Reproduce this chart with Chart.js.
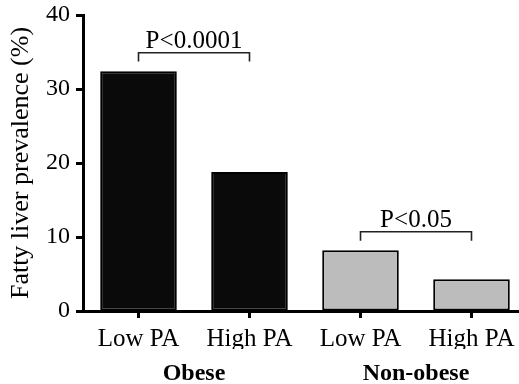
<!DOCTYPE html>
<html>
<head>
<meta charset="utf-8">
<script src="https://cdn.jsdelivr.net/npm/chart.js@4"></script>
<style>
  html, body { margin: 0; padding: 0; background: #fff; overflow: hidden; }
  #wrap { width: 527px; height: 384px; }
</style>
</head>
<body>
<div id="wrap"><canvas id="chart"></canvas></div>
<script>
var categories = ['Low PA', 'High PA', 'Low PA', 'High PA'];
var groups = ['Obese', 'Non-obese'];
var prevalence = [32.4, 18.8, 8.2, 4.3];
var barColors = ['#0a0a0a', '#0a0a0a', '#bcbcbc', '#bcbcbc'];
var yTicks = [0, 10, 20, 30, 40];
// p-value brackets: from/to category index, height in axis units
var bracketFrom = [0, 2];
var bracketTo = [1, 3];
var bracketLevel = [34.9, 10.7];
var bracketDrop = [1.2, 1.2];
var bracketText = ['P<0.0001', 'P<0.05'];

var font = 'Liberation Serif';

var brackets = {
    id: 'brackets',
    afterDatasetsDraw: function(chart) {
        var ctx = chart.ctx;
        var x = chart.scales.x, y = chart.scales.y;
        ctx.save();
        ctx.strokeStyle = '#222';
        ctx.lineWidth = 1.6;
        ctx.fillStyle = '#000';
        ctx.font = '25px "' + font + '"';
        ctx.textAlign = 'center';
        ctx.textBaseline = 'alphabetic';
        for (var i = 0; i < bracketText.length; i++) {
            var x1 = x.getPixelForValue(bracketFrom[i]);
            var x2 = x.getPixelForValue(bracketTo[i]);
            var yTop = y.getPixelForValue(bracketLevel[i]);
            var yEnd = y.getPixelForValue(bracketLevel[i] - bracketDrop[i]);
            ctx.beginPath();
            ctx.moveTo(x1, yEnd);
            ctx.lineTo(x1, yTop);
            ctx.lineTo(x2, yTop);
            ctx.lineTo(x2, yEnd);
            ctx.stroke();
            ctx.fillText(bracketText[i], (x1 + x2) / 2, yTop - 5);
        }
        ctx.restore();
    }
};

new Chart(document.getElementById('chart').getContext('2d'), {
    type: 'bar',
    data: {
        labels: categories,
        datasets: [{
            data: prevalence,
            backgroundColor: barColors,
            borderColor: '#000',
            borderWidth: 2,
            borderSkipped: false,
            barPercentage: 0.69,
            categoryPercentage: 1
        }]
    },
    options: {
        responsive: true,
        maintainAspectRatio: false,
        animation: false,
        layout: { autoPadding: false, padding: { top: 15, right: 0, left: 0, bottom: 0 } },
        plugins: { legend: { display: false }, tooltip: { enabled: false } },
        scales: {
            x: {
                type: 'category',
                offset: true,
                weight: 0,
                grid: { offset: false, drawOnChartArea: false, drawTicks: true, tickLength: 7, tickWidth: 3, color: '#000' },
                border: { display: true, color: '#000', width: 3 },
                ticks: { color: '#000', padding: 6, font: { family: font, size: 25 }, maxRotation: 0 },
                afterFit: function(s) { s.height = 38; s.paddingLeft = 0; s.paddingRight = 0; }
            },
            x2: {
                type: 'category',
                labels: groups,
                offset: true,
                position: 'bottom',
                weight: 1,
                grid: { display: false },
                border: { display: false },
                ticks: { color: '#000', padding: 2, font: { family: font, size: 24, weight: 'bold' }, maxRotation: 0 },
                afterFit: function(s) { s.height = 35; s.paddingLeft = 0; s.paddingRight = 0; }
            },
            y: {
                min: 0,
                max: 40,
                afterBuildTicks: function(s) { s.ticks = yTicks.map(function(v) { return { value: v }; }); },
                grid: { drawOnChartArea: false, drawTicks: true, tickLength: 7, tickWidth: 3, color: '#000' },
                border: { display: true, color: '#000', width: 3 },
                ticks: { color: '#000', padding: 6, font: { family: font, size: 24 } },
                title: { display: true, text: 'Fatty liver prevalence (%)', color: '#000', padding: { top: 6, bottom: 0 }, font: { family: font, size: 26 } },
                afterFit: function(s) { s.width = 83; s.paddingTop = 0; s.paddingBottom = 0; }
            }
        }
    },
    plugins: [brackets]
});
</script>
</body>
</html>
